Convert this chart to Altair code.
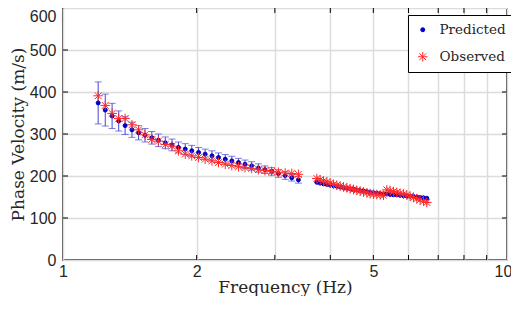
import altair as alt
import pandas as pd

# ---- data ----
freq1 = [1.20, 1.245, 1.29, 1.335, 1.38, 1.43, 1.48, 1.53, 1.585, 1.64, 1.70, 1.76, 1.82, 1.885,
         1.95, 2.02, 2.09, 2.165, 2.24, 2.32, 2.40, 2.485, 2.57, 2.66, 2.755, 2.85, 2.95, 3.055,
         3.165, 3.275, 3.39]
pred1 = [374, 357, 343, 331, 320, 310, 303, 297, 291, 285, 279, 274, 268, 264, 260, 256, 252, 248,
         244, 240, 236, 232, 228, 224, 219, 215, 211, 206, 201, 196, 191]
err1 = [50, 38, 30, 24, 21, 18, 17, 16, 15, 15, 14, 14, 13, 13, 13, 12, 12, 12, 11, 11, 11, 10, 10,
        10, 10, 9, 9, 9, 9, 8, 8]
obs1 = [391, 368, 349, 337, 337, 322, 310, 298, 287, 283, 275, 271, 260, 252, 248, 244, 240, 236,
        232, 228, 225, 222, 220, 218, 215, 213, 211, 209, 207, 206, 204]

freq2 = [3.73, 3.795, 3.861, 3.929, 3.997, 4.067, 4.138, 4.210, 4.283, 4.358, 4.434, 4.511, 4.590,
         4.670, 4.751, 4.834, 4.918, 5.004, 5.091, 5.180, 5.270, 5.362, 5.455, 5.550, 5.647, 5.745,
         5.846, 5.947, 6.051, 6.157, 6.264, 6.373, 6.484, 6.597]
pred2 = [185, 183, 181.5, 180, 178.5, 177, 175.5, 174, 172.5, 171, 169.5, 168, 166.5, 165, 164,
         162.5, 161, 160, 159, 158, 157.5, 157, 156, 155.5, 155, 154, 153, 152.5, 152, 151, 150,
         149, 148, 147]
obs2 = [194, 191, 188, 186, 183, 180, 178, 176, 174, 172, 170, 168, 166, 164, 162, 160, 158, 157,
        156, 155, 154, 167, 165, 163, 161, 159, 157, 155, 152, 149, 146, 143, 140, 137]

series_names = ["Predicted", "Observed"]
x_ticks = [1, 2, 3, 4, 5, 6, 7, 8, 9, 10]
x_labels = [1, 2, 5, 10]
y_ticks = [0, 100, 200, 300, 400, 500, 600]

# ---- tables ----
rows = []
for f, v in zip(freq1 + freq2, pred1 + pred2):
    rows.append({"f": f, "v": v, "series": "Predicted"})
for f, v in zip(freq1 + freq2, obs1 + obs2):
    rows.append({"f": f, "v": v, "series": "Observed"})
pts = pd.DataFrame(rows)
pts["order"] = (pts["series"] == "Observed").astype(int)

errs = pd.DataFrame({"f": freq1, "lo": [p - e for p, e in zip(pred1, err1)],
                     "hi": [p + e for p, e in zip(pred1, err1)]})
xt = pd.DataFrame({"xt": x_ticks[1:-1]})
yt = pd.DataFrame({"yt": y_ticks[1:-1]})

W, H = 444, 252
SERIF = "DejaVu Serif"
SANS = "Liberation Sans"
TXT = "#262626"

label_test = " || ".join(f"datum.value=={v}" for v in x_labels)
xscale = alt.Scale(type="log", domain=[1, 10], nice=False)
yscale = alt.Scale(domain=[0, 600], nice=False)
xaxis = alt.Axis(values=x_ticks, grid=True, ticks=False, domain=False,
                 labelExpr=f"({label_test}) ? format(datum.value,'d') : ''",
                 labelFlush=False, labelOverlap=False, labelPadding=3,
                 labelOffset={"condition": {"test": f"datum.value == {x_ticks[-1]}", "value": -4}, "value": 0},
                 title="Frequency (Hz)", titlePadding=0)
yaxis = alt.Axis(values=y_ticks, grid=True, ticks=False, domain=False, labelPadding=7,
                 labelFlush=False, labelOverlap=False,
                 labelOffset={"condition": {"test": f"datum.value == {y_ticks[-1]}", "value": 8}, "value": 0},
                 title="Phase Velocity (m/s)", titlePadding=2)

ASTER = "M-2.4,0L2.4,0M0,-2.4L0,2.4M-1.7,-1.7L1.7,1.7M-1.7,1.7L1.7,-1.7"
cdom = series_names
crange = ["#0000c8", "#ff2a2a"]
ECOL = "#4646d2"

bars = alt.Chart(errs).mark_rule(color=ECOL, strokeWidth=1).encode(
    x=alt.X("f:Q", scale=xscale, axis=xaxis),
    y=alt.Y("lo:Q", scale=yscale, axis=yaxis),
    y2="hi:Q",
)
caps_lo = alt.Chart(errs).mark_tick(color=ECOL, thickness=1, size=7, orient="horizontal").encode(
    x=alt.X("f:Q", scale=xscale, axis=xaxis),
    y=alt.Y("lo:Q", scale=yscale, axis=yaxis),
)
caps_hi = alt.Chart(errs).mark_tick(color=ECOL, thickness=1, size=7, orient="horizontal").encode(
    x=alt.X("f:Q", scale=xscale, axis=xaxis),
    y=alt.Y("hi:Q", scale=yscale, axis=yaxis),
)

legend = alt.Legend(title=None, orient="none", legendX=345, legendY=7,
                    strokeColor="black", fillColor="white", padding=8,
                    labelFont=SERIF, labelFontSize=13.5, labelColor=TXT,
                    symbolSize=16, symbolStrokeWidth=1, rowPadding=12, labelOffset=10)

points = alt.Chart(pts).mark_point(filled=True, size=16, strokeWidth=1, opacity=1).encode(
    x=alt.X("f:Q", scale=xscale, axis=xaxis),
    y=alt.Y("v:Q", scale=yscale, axis=yaxis),
    color=alt.Color("series:N", scale=alt.Scale(domain=cdom, range=crange), legend=legend),
    stroke=alt.Stroke("series:N", scale=alt.Scale(domain=cdom, range=crange), legend=legend),
    shape=alt.Shape("series:N", scale=alt.Scale(domain=cdom, range=["circle", ASTER]), legend=legend),
    order=alt.Order("order:Q"),
)

tick_b = alt.Chart(xt).mark_rule(color="black", strokeWidth=1).encode(
    x=alt.X("xt:Q", scale=xscale, axis=xaxis), y=alt.value(H), y2=alt.value(H - 5))
tick_t = alt.Chart(xt).mark_rule(color="black", strokeWidth=1).encode(
    x=alt.X("xt:Q", scale=xscale, axis=xaxis), y=alt.value(0), y2=alt.value(5))
tick_l = alt.Chart(yt).mark_rule(color="black", strokeWidth=1).encode(
    y=alt.Y("yt:Q", scale=yscale, axis=yaxis), x=alt.value(0), x2=alt.value(5))
tick_r = alt.Chart(yt).mark_rule(color="black", strokeWidth=1).encode(
    y=alt.Y("yt:Q", scale=yscale, axis=yaxis), x=alt.value(W), x2=alt.value(W - 5))

chart = alt.layer(tick_b, tick_t, tick_l, tick_r, bars, caps_lo, caps_hi, points).properties(
    width=W, height=H,
    autosize=alt.AutoSizeParams(type="none"),
    padding={"left": 55, "top": 0, "right": 4, "bottom": 36},
    background="white",
).configure_view(stroke="#111111", strokeWidth=1.5).configure_axis(
    gridColor="#dcdcdc", gridWidth=1.5, gridOpacity=1,
    labelFont=SANS, labelFontSize=16, labelColor=TXT,
    titleFont=SERIF, titleFontSize=17, titleColor=TXT, titleFontWeight="normal",
)

chart.save("out.html", embed_options={"renderer": "svg", "actions": False})
